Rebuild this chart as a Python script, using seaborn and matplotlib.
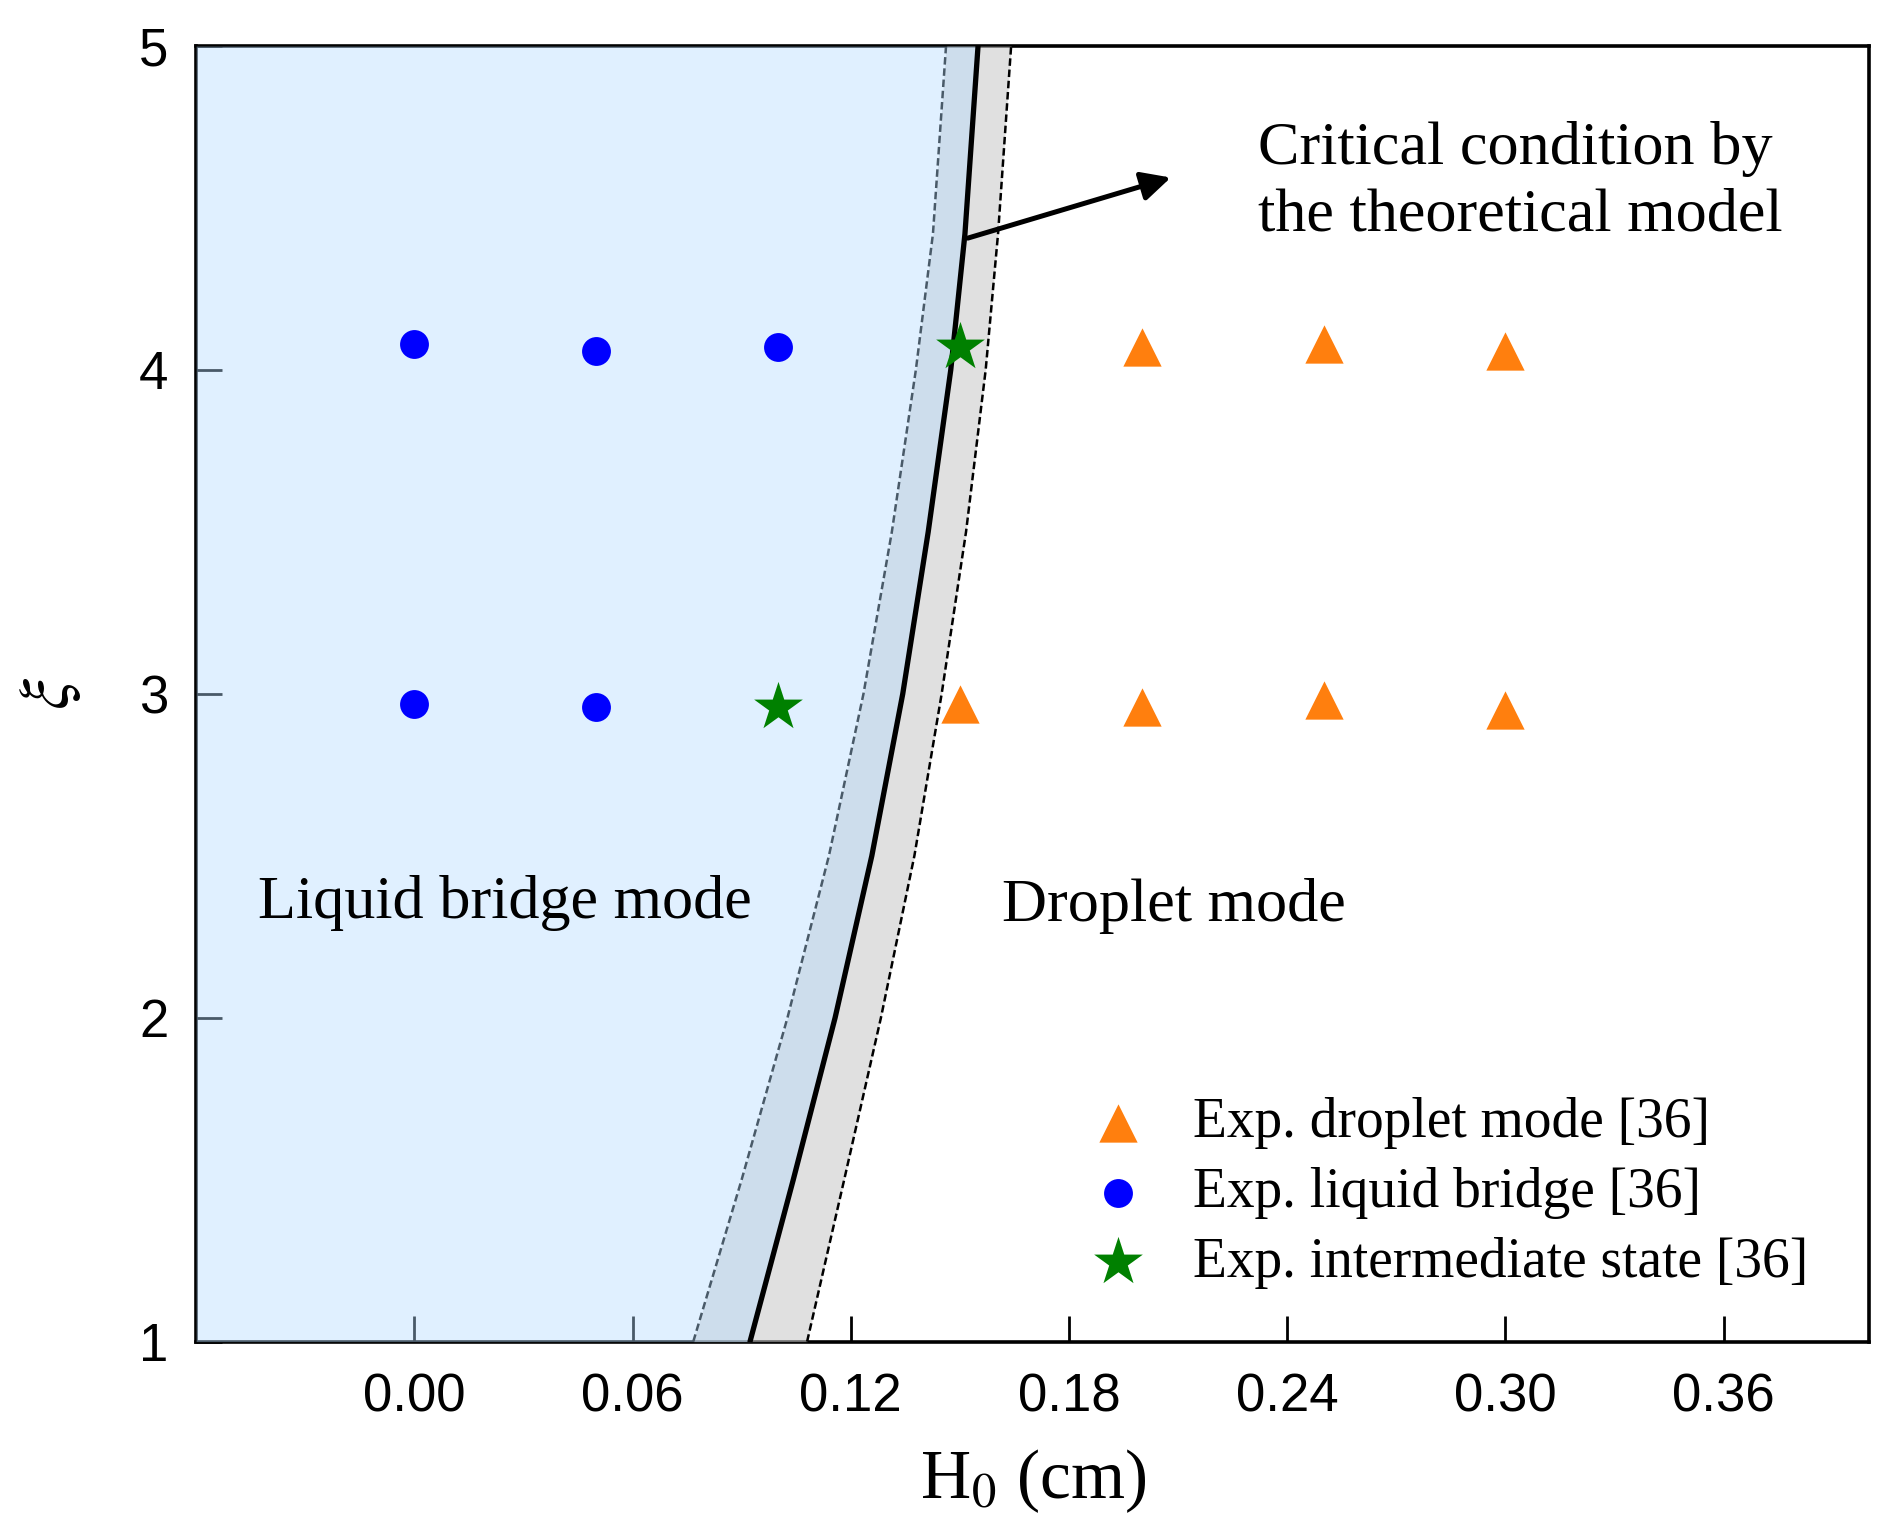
import numpy as np
import pandas as pd
import matplotlib
matplotlib.use('Agg')
import matplotlib.pyplot as plt
import seaborn as sns

# 1. 数据
xi_curve = [1.0, 1.5, 2.0, 2.5, 3.0, 3.5, 4.0, 4.42, 5.0]
h_crit = [0.0923, 0.1042, 0.1157, 0.1258, 0.1343, 0.1413, 0.1475, 0.1514, 0.1550]
h_low = [0.0767, 0.0900, 0.1026, 0.1140, 0.1235, 0.1313, 0.1379, 0.1426, 0.1462]
h_high = [0.1080, 0.1182, 0.1283, 0.1375, 0.1450, 0.1517, 0.1571, 0.1605, 0.1641]

drop_h = [0.20, 0.25, 0.30, 0.15, 0.20, 0.25, 0.30]
drop_xi = [4.07, 4.08, 4.06, 2.97, 2.96, 2.98, 2.95]
bridge_h = [0.00, 0.05, 0.10, 0.00, 0.05]
bridge_xi = [4.08, 4.06, 4.07, 2.97, 2.96]
inter_h = [0.15, 0.10]
inter_xi = [4.07, 2.96]

x_ticks = [0.00, 0.06, 0.12, 0.18, 0.24, 0.30, 0.36]
y_ticks = [1, 2, 3, 4, 5]

curve = pd.DataFrame({'xi': xi_curve, 'crit': h_crit, 'low': h_low, 'high': h_high})

# 2. 全局设置
sns.set_style('ticks')
plt.rcParams['font.family'] = ['Liberation Serif', 'DejaVu Serif']
plt.rcParams['mathtext.fontset'] = 'stix'
plt.rcParams['text.color'] = 'black'
plt.rcParams['axes.labelcolor'] = 'black'
plt.rcParams['xtick.color'] = 'black'
plt.rcParams['ytick.color'] = 'black'

fig = plt.figure(figsize=(9.43, 7.675), dpi=200)
ax = fig.add_axes([0.104, 0.126, 0.887, 0.844])

# 3. 区域填充
ax.fill_betweenx(curve['xi'], curve['low'], curve['high'],
                 color=(199/255, 199/255, 199/255), alpha=0.55, lw=0, zorder=3)
sns.lineplot(data=curve, x='low', y='xi', sort=False, estimator=None, ax=ax,
             color='black', lw=0.9, linestyle=(0, (3, 1.5)), zorder=3.2)
ax.fill_betweenx(curve['xi'], -0.06, curve['crit'],
                 color=(180/255, 219/255, 1.0), alpha=0.41, lw=0, zorder=3.5)
sns.lineplot(data=curve, x='high', y='xi', sort=False, estimator=None, ax=ax,
             color='black', lw=0.9, linestyle=(0, (3, 1.5)), zorder=4)
sns.lineplot(data=curve, x='crit', y='xi', sort=False, estimator=None, ax=ax,
             color='black', lw=1.9, zorder=4)

# 4. 实验点
sns.scatterplot(x=drop_h, y=drop_xi, marker='^', color='#ff7f0e', s=190,
                linewidth=0, ax=ax, zorder=5, label='Exp. droplet mode [36]')
sns.scatterplot(x=bridge_h, y=bridge_xi, marker='o', color='#0000ff', s=108,
                linewidth=0, ax=ax, zorder=5, label='Exp. liquid bridge [36]')
sns.scatterplot(x=inter_h, y=inter_xi, marker='*', color='#008000', s=340,
                linewidth=0, ax=ax, zorder=5, label='Exp. intermediate state [36]')

# 5. 文字和箭头
ax.annotate('', xy=(0.208, 4.594), xytext=(0.1522, 4.407),
            arrowprops=dict(arrowstyle='-|>', lw=1.8, color='black',
                            mutation_scale=22, shrinkA=0, shrinkB=0), zorder=6)
ax.text(0.232, 4.58, 'Critical condition by\nthe theoretical model',
        fontsize=22.4, ha='left', va='center', linespacing=1.25, zorder=6)
ax.text(-0.0431, 2.353, 'Liquid bridge mode', fontsize=22.4, ha='left', va='center', zorder=6)
ax.text(0.1616, 2.346, 'Droplet mode', fontsize=22.4, ha='left', va='center', zorder=6)

leg = ax.legend(loc='center left', bbox_to_anchor=(0.533, 0.1146), frameon=False,
                fontsize=20, handlelength=1.1, handletextpad=0.8,
                labelspacing=0.32, borderpad=0, borderaxespad=0)

# 6. 坐标轴
ax.set_xlim(-0.06, 0.40)
ax.set_ylim(1, 5)
ax.set_xticks(x_ticks)
ax.set_xticklabels([f'{v:.2f}' for v in x_ticks], family='Liberation Sans', fontsize=19)
ax.set_yticks(y_ticks)
ax.set_yticklabels([str(v) for v in y_ticks], family='Liberation Sans', fontsize=19)
ax.tick_params(direction='in', length=9.5, width=1.0, color='black')
ax.tick_params(axis='x', pad=11)
ax.tick_params(axis='y', pad=10)
for s in ax.spines.values():
    s.set_visible(True)
    s.set_linewidth(1.3)
    s.set_color('black')
ax.set_xlabel('H$_0$ (cm)', fontsize=25, labelpad=9)
ax.set_ylabel(r'$\xi$', fontsize=25, labelpad=20)

fig.savefig('out.png', dpi=200)
